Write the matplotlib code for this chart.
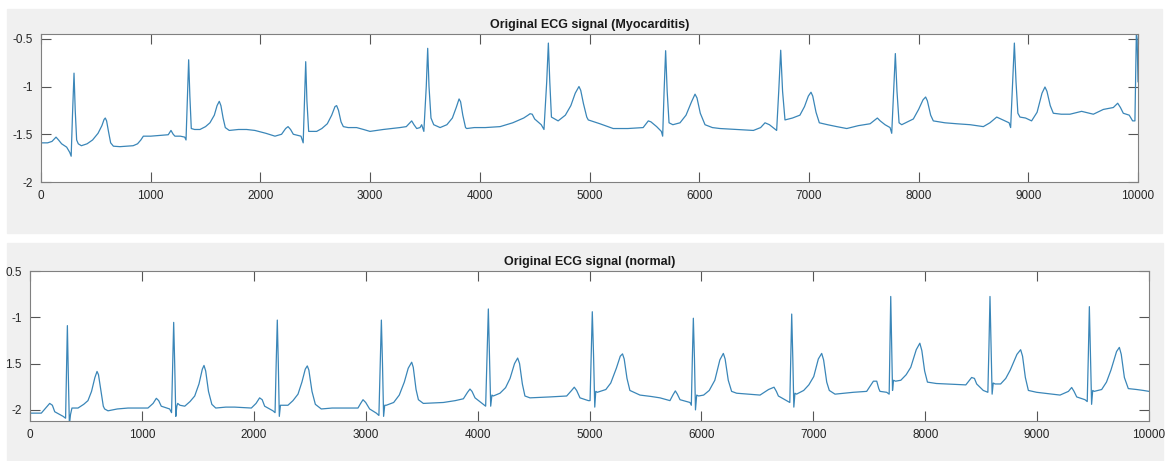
import matplotlib
matplotlib.use("Agg")
import matplotlib.pyplot as plt
from matplotlib.patches import Rectangle

# (sample index, mV) points
myo_pts = [
    (0, -1.59), (60, -1.59), (100, -1.575), (137, -1.53), (160, -1.56), (188, -1.60),
    (234, -1.635), (262, -1.69), (275, -1.73), (287, -1.30), (301, -0.86), (312, -1.25),
    (325, -1.56), (340, -1.60), (368, -1.62), (420, -1.60), (470, -1.56), (520, -1.49),
    (555, -1.41), (575, -1.345), (586, -1.33), (598, -1.36), (615, -1.47), (635, -1.59),
    (660, -1.625), (720, -1.63), (781, -1.625), (840, -1.62), (880, -1.60), (910, -1.56),
    (933, -1.52), (1000, -1.52), (1054, -1.515), (1120, -1.51), (1160, -1.505), (1185, -1.46),
    (1205, -1.50), (1221, -1.52), (1270, -1.52), (1310, -1.53), (1322, -1.56), (1335, -1.10),
    (1346, -0.72), (1357, -1.10), (1370, -1.44), (1400, -1.45), (1449, -1.45), (1500, -1.42),
    (1540, -1.38), (1580, -1.30), (1605, -1.20), (1625, -1.155), (1640, -1.20), (1660, -1.33),
    (1680, -1.43), (1716, -1.46), (1800, -1.45), (1874, -1.45), (1950, -1.46), (2050, -1.49),
    (2133, -1.52), (2193, -1.50), (2230, -1.44), (2252, -1.42), (2275, -1.45), (2300, -1.50),
    (2370, -1.52), (2390, -1.59), (2402, -1.15), (2413, -0.74), (2424, -1.15), (2440, -1.47),
    (2513, -1.47), (2560, -1.44), (2610, -1.39), (2650, -1.30), (2680, -1.21), (2695, -1.20),
    (2712, -1.25), (2735, -1.37), (2756, -1.42), (2800, -1.43), (2877, -1.43), (2940, -1.45),
    (2999, -1.47), (3060, -1.46), (3120, -1.45), (3200, -1.44), (3272, -1.43), (3330, -1.42),
    (3379, -1.36), (3400, -1.40), (3425, -1.44), (3455, -1.43), (3470, -1.40), (3490, -1.47),
    (3512, -1.00), (3525, -0.60), (3537, -1.00), (3555, -1.33), (3580, -1.40), (3638, -1.43),
    (3700, -1.40), (3750, -1.33), (3785, -1.22), (3811, -1.13), (3825, -1.16), (3845, -1.30),
    (3870, -1.43), (3881, -1.44), (3950, -1.43), (4050, -1.43), (4185, -1.42), (4300, -1.38),
    (4400, -1.33), (4440, -1.30), (4458, -1.285), (4478, -1.29), (4500, -1.34), (4560, -1.40),
    (4585, -1.45), (4610, -0.95), (4625, -0.545), (4638, -0.95), (4653, -1.32), (4714, -1.36),
    (4780, -1.30), (4830, -1.20), (4870, -1.07), (4904, -1.00), (4920, -1.04), (4945, -1.18),
    (4975, -1.32), (4989, -1.35), (5095, -1.39), (5216, -1.44), (5350, -1.44), (5489, -1.43),
    (5536, -1.36), (5560, -1.37), (5612, -1.42), (5655, -1.47), (5667, -1.52), (5680, -1.05),
    (5694, -0.625), (5708, -1.05), (5725, -1.38), (5760, -1.40), (5825, -1.38), (5880, -1.30),
    (5930, -1.16), (5962, -1.08), (5980, -1.12), (6010, -1.28), (6053, -1.40), (6120, -1.43),
    (6190, -1.44), (6350, -1.45), (6494, -1.46), (6560, -1.43), (6600, -1.38), (6640, -1.40),
    (6706, -1.46), (6725, -1.05), (6743, -0.62), (6760, -1.05), (6782, -1.35), (6850, -1.33),
    (6918, -1.30), (6960, -1.21), (6995, -1.10), (7019, -1.06), (7035, -1.10), (7065, -1.27),
    (7095, -1.38), (7170, -1.40), (7254, -1.42), (7345, -1.44), (7450, -1.41), (7558, -1.39),
    (7624, -1.33), (7650, -1.36), (7694, -1.40), (7740, -1.43), (7755, -1.49), (7772, -1.05),
    (7788, -0.655), (7803, -1.05), (7822, -1.38), (7846, -1.40), (7900, -1.37), (7952, -1.34),
    (8000, -1.24), (8040, -1.14), (8064, -1.11), (8080, -1.15), (8110, -1.30), (8134, -1.36),
    (8240, -1.38), (8347, -1.39), (8470, -1.40), (8590, -1.42), (8650, -1.38), (8712, -1.32),
    (8750, -1.34), (8788, -1.36), (8825, -1.38), (8839, -1.43), (8857, -0.95), (8873, -0.545),
    (8888, -0.95), (8905, -1.28), (8924, -1.32), (8975, -1.33), (9030, -1.36), (9080, -1.27),
    (9125, -1.07), (9152, -1.005), (9170, -1.05), (9200, -1.20), (9228, -1.28), (9300, -1.29),
    (9380, -1.29), (9486, -1.26), (9593, -1.29), (9684, -1.24), (9775, -1.22), (9815, -1.175),
    (9840, -1.22), (9866, -1.28), (9920, -1.30), (9951, -1.36), (9972, -1.36), (9985, -0.44),
    (9992, -0.50), (10000, -0.95),
]

norm_pts = [
    (0, -2.035), (101, -2.035), (140, -1.98), (176, -1.93), (200, -1.95), (221, -2.02),
    (296, -2.07), (318, -2.09), (326, -1.60), (334, -1.09), (342, -1.60), (352, -2.16),
    (362, -2.05), (375, -1.98), (429, -1.98), (480, -1.94), (518, -1.90), (550, -1.80),
    (580, -1.65), (599, -1.585), (612, -1.62), (635, -1.80), (655, -1.96), (667, -1.99),
    (697, -2.01), (780, -1.99), (876, -1.98), (1054, -1.98), (1100, -1.93), (1129, -1.875),
    (1150, -1.90), (1173, -1.96), (1248, -1.99), (1265, -2.03), (1275, -1.50), (1284, -1.055),
    (1293, -1.50), (1303, -2.07), (1312, -1.96), (1320, -1.93), (1340, -1.95), (1383, -1.96),
    (1430, -1.91), (1472, -1.85), (1510, -1.72), (1540, -1.56), (1555, -1.52), (1570, -1.58),
    (1595, -1.80), (1625, -1.94), (1660, -1.98), (1750, -1.97), (1829, -1.97), (1978, -1.98),
    (2020, -1.93), (2052, -1.87), (2075, -1.89), (2097, -1.96), (2171, -2.01), (2190, -2.03),
    (2200, -1.50), (2210, -1.03), (2219, -1.50), (2228, -2.07), (2238, -1.95), (2305, -1.95),
    (2350, -1.90), (2395, -1.83), (2430, -1.70), (2460, -1.56), (2478, -1.525), (2492, -1.57),
    (2520, -1.80), (2550, -1.94), (2603, -1.99), (2700, -1.98), (2812, -1.98), (2931, -1.98),
    (2955, -1.93), (2976, -1.89), (3000, -1.92), (3035, -1.99), (3095, -2.035), (3118, -2.06),
    (3130, -1.50), (3140, -1.03), (3150, -1.50), (3160, -2.07), (3170, -1.95), (3184, -1.95),
    (3250, -1.92), (3300, -1.84), (3345, -1.70), (3380, -1.55), (3411, -1.485), (3425, -1.54),
    (3450, -1.78), (3471, -1.89), (3515, -1.93), (3600, -1.925), (3694, -1.92), (3800, -1.90),
    (3873, -1.88), (3910, -1.81), (3932, -1.775), (3950, -1.80), (3977, -1.87), (4030, -1.92),
    (4072, -1.96), (4085, -1.40), (4096, -0.91), (4106, -1.40), (4117, -1.96), (4128, -1.84),
    (4140, -1.85), (4200, -1.82), (4250, -1.76), (4290, -1.66), (4330, -1.50), (4358, -1.44),
    (4375, -1.50), (4400, -1.72), (4423, -1.85), (4468, -1.87), (4560, -1.865), (4647, -1.86),
    (4796, -1.85), (4840, -1.79), (4864, -1.755), (4885, -1.79), (4915, -1.87), (4990, -1.90),
    (5005, -1.90), (5015, -1.40), (5025, -0.94), (5036, -1.40), (5047, -1.97), (5056, -1.80),
    (5070, -1.81), (5146, -1.78), (5190, -1.71), (5240, -1.55), (5275, -1.42), (5295, -1.395),
    (5310, -1.45), (5335, -1.66), (5361, -1.79), (5451, -1.84), (5550, -1.855), (5630, -1.87),
    (5719, -1.90), (5745, -1.84), (5767, -1.795), (5785, -1.83), (5809, -1.89), (5898, -1.92),
    (5910, -1.95), (5919, -1.45), (5928, -1.01), (5938, -1.45), (5947, -2.00), (5958, -1.84),
    (5975, -1.85), (6020, -1.84), (6070, -1.79), (6120, -1.68), (6165, -1.46), (6196, -1.39),
    (6212, -1.45), (6240, -1.68), (6270, -1.80), (6315, -1.82), (6420, -1.83), (6524, -1.84),
    (6600, -1.78), (6649, -1.755), (6670, -1.80), (6688, -1.85), (6762, -1.90), (6790, -1.92),
    (6798, -1.45), (6807, -0.965), (6817, -1.45), (6826, -1.97), (6836, -1.82), (6850, -1.83),
    (6914, -1.79), (6960, -1.73), (7004, -1.64), (7045, -1.45), (7075, -1.39), (7092, -1.46),
    (7120, -1.70), (7143, -1.79), (7194, -1.83), (7280, -1.82), (7358, -1.81), (7477, -1.80),
    (7520, -1.72), (7537, -1.69), (7567, -1.69), (7585, -1.77), (7596, -1.80), (7656, -1.81),
    (7678, -1.83), (7685, -1.30), (7692, -0.775), (7700, -1.30), (7708, -1.79), (7717, -1.68),
    (7735, -1.69), (7782, -1.68), (7830, -1.62), (7871, -1.54), (7920, -1.35), (7952, -1.28),
    (7970, -1.36), (7995, -1.58), (8020, -1.70), (8100, -1.715), (8184, -1.72), (8270, -1.725),
    (8363, -1.73), (8395, -1.68), (8415, -1.65), (8440, -1.66), (8460, -1.72), (8519, -1.79),
    (8560, -1.81), (8570, -1.30), (8579, -0.775), (8588, -1.30), (8598, -1.83), (8608, -1.71),
    (8625, -1.72), (8674, -1.72), (8720, -1.66), (8760, -1.57), (8820, -1.40), (8853, -1.35),
    (8870, -1.42), (8895, -1.65), (8922, -1.79), (8996, -1.81), (9100, -1.825), (9205, -1.84),
    (9280, -1.80), (9309, -1.758), (9330, -1.80), (9354, -1.86), (9428, -1.89), (9448, -1.91),
    (9458, -1.40), (9467, -0.885), (9477, -1.40), (9487, -1.94), (9497, -1.79), (9510, -1.80),
    (9577, -1.78), (9620, -1.70), (9660, -1.57), (9710, -1.37), (9735, -1.325), (9752, -1.40),
    (9780, -1.65), (9815, -1.77), (9890, -1.78), (9950, -1.79), (10000, -1.80),
]

xticks = list(range(0, 10001, 1000))
myo_yticks = [-2, -1.5, -1, -0.5]
myo_yticklabels = ["-2", "-1.5", "-1", "-0.5"]
norm_yticks = [-2, -1.5, -1, -0.5]
norm_yticklabels = ["-2", "1.5", "-1", "0.5"]   # minus signs are cut off in the source image

LINE = "#3a86b8"
GREY_BG = "#f0f0f0"
W, H = 1170, 461

plt.rcParams.update({"font.family": ["Liberation Sans", "DejaVu Sans"], "font.size": 8})
fig = plt.figure(figsize=(W / 100, H / 100), dpi=100, facecolor="white")

# grey MATLAB-like figure panels, drawn behind the axes
for (x0, y0, x1, y1) in [(7, 9, 1162, 233), (7, 243, 1163, 461)]:
    fig.patches.append(Rectangle((x0 / W, 1 - y1 / H), (x1 - x0) / W, (y1 - y0) / H,
                                 transform=fig.transFigure, color=GREY_BG, zorder=-10))


def style(ax, yticks, ylabels, ylim, title):
    ax.set_zorder(5)
    ax.set_xlim(0, 10000)
    ax.set_ylim(*ylim)
    ax.set_xticks(xticks)
    ax.set_yticks(yticks)
    ax.set_yticklabels(ylabels)
    ax.tick_params(direction="in", length=7, width=0.8, color="#555555",
                   labelcolor="#262626", labelsize=8.5, pad=6, top=True, right=True)
    for s in ax.spines.values():
        s.set_color("#808080")
        s.set_linewidth(0.8)
    ax.set_title(title, fontsize=9, fontweight="bold", color="#1a1a1a", pad=4)


ax1 = fig.add_axes([41 / W, 1 - 182 / H, 1097 / W, 148 / H])
mx, my = zip(*myo_pts)
ax1.plot(mx, my, color=LINE, lw=0.9)
style(ax1, myo_yticks, myo_yticklabels, (-2, -0.45), "Original ECG signal (Myocarditis)")

ax2 = fig.add_axes([30 / W, 1 - 421 / H, 1119 / W, 150 / H])
nx, ny = zip(*norm_pts)
ax2.plot(nx, ny, color=LINE, lw=0.9)
style(ax2, norm_yticks, norm_yticklabels, (-2.12, -0.5), "Original ECG signal (normal)")

fig.savefig("out.png", dpi=100, facecolor="white")
